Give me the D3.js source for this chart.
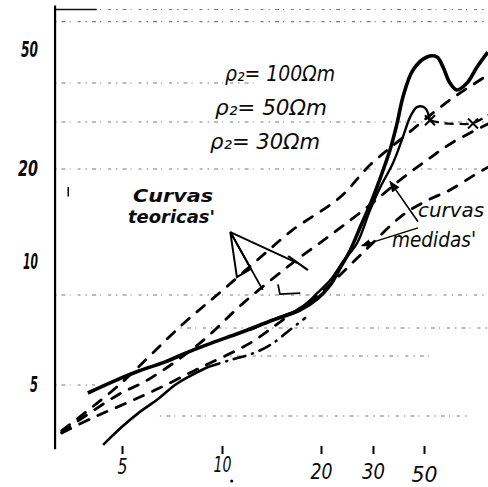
<!DOCTYPE html>
<html>
<head>
<meta charset="utf-8">
<script src="https://cdn.jsdelivr.net/npm/d3@7"></script>
<style>
  html, body { margin: 0; padding: 0; background: #fff; }
  svg { display: block; }
  text { font-family: "DejaVu Sans", sans-serif; font-style: italic; fill: #0a0a0a; }
</style>
</head>
<body>
<svg id="chart" width="488" height="487"></svg>
<script>
// Apparent resistivity (Ω·m) against electrode spacing, log–log field sheet.

// Axis ticks
const xTicks = [5, 10, 20, 30, 50];
const yTicks = [5, 10, 20, 50];

// Ruled lines of the sheet (resistivity value, from spacing, to spacing)
const gridRho  = [68, 62, 40, 30, 20, 8, 7, 6, 5, 4];
const gridFrom = [3.15, 3.15, 3.15, 3.15, 3.15, 3.15, 7.5, 10.6, 3.15, 6.5];
const gridTo   = [100, 100, 13, 100, 100, 100, 100, 53, 4.15, 79];

// Theoretical curves, ρ2 = 100, 50, 30 Ωm
const spacingT100 = [3.3, 4.9, 7.6, 10.1, 13.7, 16.4, 23.2, 29.3, 39.3, 64.9, 95];
const rhoT100     = [3.6, 5.0, 7.1, 8.3, 10.8, 12.7, 16.2, 20.7, 25.7, 35.3, 42.2];

const spacingT50 = [3.3, 4.8, 6.1, 8.6, 11.6, 16.4, 22.0, 29.3, 39.3, 51.5, 66.9, 95];
const rhoT50     = [3.56, 4.62, 5.22, 6.45, 7.74, 9.94, 12.4, 15.3, 18.4, 21.6, 25.2, 29.5];

const spacingT30 = [3.3, 4.07, 5.0, 6.29, 8.59, 12.2, 15.0, 19.9, 27.1, 40.5, 51.5, 64.9, 81.8, 95];
const rhoT30     = [3.54, 3.94, 4.33, 4.82, 5.57, 6.45, 7.17, 8.11, 10.5, 14.2, 15.8, 17.1, 19.0, 20.3];

// Measured curves
const spacingM1 = [3.95, 4.77, 5.59, 6.74, 7.9, 9.33, 11.3, 14.3, 17.3, 19.6, 21.5, 23.2, 25.1, 27.1, 29.3,
                   31.5, 33.8, 35.6, 38.2, 40.5, 44.8, 51.5, 57.0, 60.5, 64.9, 69.6, 77.0, 85.2, 95];
const rhoM1     = [4.72, 5.14, 5.45, 5.78, 6.13, 6.45, 6.81, 7.23, 7.53, 7.90, 8.56, 9.6, 10.9, 12.9, 15.3,
                   17.8, 20.7, 23.6, 29.7, 36.1, 43.7, 47.7, 47.7, 44.6, 40.0, 38.0, 40.0, 44.6, 49.3];

const spacingM2 = [12.2, 15.0, 16.7, 18.1, 19.5, 21.5, 23.7, 26.5, 29.3, 32.2, 36.7, 40.5, 43.5, 46.6, 50.5, 53.1];
const rhoM2     = [6.93, 7.32, 7.5, 7.74, 8.11, 8.85, 10.0, 11.5, 14.7, 17.4, 21.1, 26.4, 31.1, 33.5, 33.3, 30.4];

const spacingM2ext = [53.1, 60.5, 70.4, 81.8, 95];
const rhoM2ext     = [30.4, 29.7, 29.5, 29.7, 31.6];
const crossSpacing = [53.1, 81.8];
const crossRho     = [30.4, 29.6];

const spacingM3 = [4.39, 5.0, 5.66, 6.42, 7.22, 8.01, 9.07];
const rhoM3     = [3.25, 3.70, 4.12, 4.52, 5.0, 5.29, 5.60];

const spacingM3b = [9.07, 10.6, 12.3, 14.0, 16.1, 17.9];
const rhoM3b     = [5.60, 5.85, 6.07, 6.37, 6.93, 7.29];

// Scales: hand-ruled log paper, so both are piecewise log scales
const x = d3.scaleLog()
  .domain([3, 5, 10, 20, 30, 50, 100])
  .range([48, 122, 222, 321, 373, 424, 493]);
const y = d3.scaleLog()
  .domain([3, 4, 5, 6, 7, 8, 10, 20, 30, 40, 50, 80])
  .range([456, 416, 385, 356, 328, 295, 262, 169, 122, 83, 50, -12]);

const svg = d3.select("#chart");
const axisAt = 3.15;
const pts = (xs, ys) => xs.map((v, i) => [v, ys[i]]);
const line = d3.line()
  .x(d => x(d[0])).y(d => y(d[1]))
  .curve(d3.curveCatmullRom.alpha(0.5));

// ruled lines
const grid = svg.append("g");
gridRho.forEach((r, i) => {
  grid.append("line")
    .attr("x1", x(gridFrom[i])).attr("x2", x(gridTo[i]))
    .attr("y1", y(r)).attr("y2", y(r))
    .attr("stroke", "#333").attr("stroke-width", 1.1).attr("opacity", 0.65)
    .attr("stroke-dasharray", "1.5,5,4,4,1,7,3,5");
});
// solid lead-in of the top rule
grid.append("line")
  .attr("x1", x(axisAt)).attr("x2", x(4.2))
  .attr("y1", y(68)).attr("y2", y(68))
  .attr("stroke", "#111").attr("stroke-width", 1.4);

// vertical axis line
svg.append("line")
  .attr("x1", x(axisAt)).attr("x2", x(axisAt))
  .attr("y1", y(70)).attr("y2", y(3.15))
  .attr("stroke", "#000").attr("stroke-width", 2.2);
// small stroke beside the axis
svg.append("line")
  .attr("x1", x(3.45)).attr("x2", x(3.45))
  .attr("y1", y(17.5)).attr("y2", y(16.3))
  .attr("stroke", "#000").attr("stroke-width", 1.5);

const yLen = {5: 8, 10: 15, 20: 20, 50: 17};
svg.append("g")
  .attr("transform", `translate(${x(axisAt)},0)`)
  .call(d3.axisLeft(y).tickValues(yTicks).tickSize(0).tickPadding(17).tickFormat(d3.format("d")))
  .call(g => g.select(".domain").remove())
  .call(g => g.selectAll("text")
    .attr("fill", "#000")
    .attr("textLength", d => yLen[d])
    .attr("lengthAdjust", "spacingAndGlyphs")
    .style("font-size", "21px").style("font-weight", "bold")
    .style("font-style", "italic").style("font-family", "DejaVu Sans, sans-serif"));

const xLen = {5: 10, 10: 18, 20: 22, 30: 23, 50: 26};
const xDrop = {5: 0, 10: -2, 20: 5, 30: 5, 50: 8};
svg.append("g")
  .attr("transform", "translate(0,446)")
  .call(d3.axisBottom(x).tickValues(xTicks).tickSize(8).tickPadding(4).tickFormat(d3.format("d")))
  .call(g => g.select(".domain").remove())
  .call(g => g.selectAll("line").attr("stroke", "#000").attr("stroke-width", 2))
  .call(g => g.selectAll("text")
    .attr("fill", "#000")
    .attr("y", d => 12 + xDrop[d])
    .attr("textLength", d => xLen[d])
    .attr("lengthAdjust", "spacingAndGlyphs")
    .style("font-size", "22px").style("font-weight", "normal")
    .style("font-style", "italic").style("font-family", "DejaVu Sans, sans-serif"));

// theoretical curves (dashed)
[[spacingT100, rhoT100], [spacingT50, rhoT50], [spacingT30, rhoT30]].forEach(([xs, ys]) => {
  svg.append("path")
    .attr("d", line(pts(xs, ys)))
    .attr("fill", "none").attr("stroke", "#000")
    .attr("stroke-width", 2.8).attr("stroke-linecap", "round")
    .attr("stroke-dasharray", "10,10");
});

// measured curves
svg.append("path").attr("d", line(pts(spacingM3, rhoM3)))
  .attr("fill", "none").attr("stroke", "#000").attr("stroke-width", 2.6);
svg.append("path").attr("d", line(pts(spacingM3b, rhoM3b)))
  .attr("fill", "none").attr("stroke", "#000").attr("stroke-width", 2.6)
  .attr("stroke-linecap", "round").attr("stroke-dasharray", "12,7,1,7");
svg.append("path").attr("d", line(pts(spacingM2, rhoM2)))
  .attr("fill", "none").attr("stroke", "#000").attr("stroke-width", 2.4);
svg.append("path").attr("d", line(pts(spacingM2ext, rhoM2ext)))
  .attr("fill", "none").attr("stroke", "#000").attr("stroke-width", 2.2)
  .attr("stroke-dasharray", "9,6");
svg.append("path").attr("d", line(pts(spacingM1, rhoM1)))
  .attr("fill", "none").attr("stroke", "#000").attr("stroke-width", 3.6)
  .attr("stroke-linejoin", "round");

// crosses on the extension of the second measured curve
crossSpacing.forEach((s, i) => {
  const cx = x(s), cy = y(crossRho[i]);
  svg.append("path")
    .attr("d", `M${cx - 5},${cy - 5}L${cx + 5},${cy + 5}M${cx + 5},${cy - 5}L${cx - 5},${cy + 5}`)
    .attr("stroke", "#000").attr("stroke-width", 2);
});

// pointers from "curvas teoricas"
const pointer = svg.append("g").attr("stroke", "#000").attr("fill", "none").attr("stroke-width", 1.8);
const V = [x(10.6), y(12.5)];
pointer.append("path")
  .attr("d", `M${V}L${x(11.1)},${y(9.03)}L${x(12.25)},${y(9.54)}Z`).attr("stroke-width", 2);
pointer.append("line")
  .attr("x1", V[0]).attr("y1", V[1]).attr("x2", x(13.3)).attr("y2", y(8.28));
pointer.append("line")
  .attr("x1", V[0]).attr("y1", V[1]).attr("x2", x(16.9)).attr("y2", y(9.94));
pointer.append("line")
  .attr("x1", x(15.9)).attr("y1", y(10.45)).attr("x2", x(18.25)).attr("y2", y(9.47)).attr("stroke-width", 2.2);
pointer.append("path")
  .attr("d", `M${x(14.8)},${y(8.6)}L${x(15.0)},${y(8.05)}L${x(17.3)},${y(8.1)}`);

// pointers from "curvas medidas"
svg.append("defs").append("marker")
  .attr("id", "head").attr("viewBox", "0 0 10 10").attr("refX", 9).attr("refY", 5)
  .attr("markerWidth", 7).attr("markerHeight", 7).attr("orient", "auto")
  .append("path").attr("d", "M0,1L10,5L0,9Z").attr("fill", "#000");
svg.append("line")
  .attr("x1", x(47.1)).attr("y1", y(13.5)).attr("x2", x(35.6)).attr("y2", y(18.2))
  .attr("stroke", "#000").attr("stroke-width", 1.6).attr("marker-end", "url(#head)");
svg.append("line")
  .attr("x1", x(47.1)).attr("y1", y(12.9)).attr("x2", x(27.5)).attr("y2", y(11.3))
  .attr("stroke", "#000").attr("stroke-width", 1.4).attr("marker-end", "url(#head)");

// labels
function rhoLabel(px, py, value, len) {
  svg.append("text").attr("x", px).attr("y", py)
    .attr("textLength", len).attr("lengthAdjust", "spacingAndGlyphs")
    .style("font-size", "22px")
    .text("ρ₂" + value);
}
rhoLabel(225, 81, "= 100Ωm", 110);
rhoLabel(215, 115, "= 50Ωm", 112);
rhoLabel(210, 149, "= 30Ωm", 110);

svg.append("text").attr("x", 133).attr("y", 202).text("Curvas")
  .attr("textLength", 80).attr("lengthAdjust", "spacingAndGlyphs")
  .style("font-size", "18px").style("font-weight", "bold");
svg.append("text").attr("x", 128).attr("y", 223).text("teoricas'")
  .attr("textLength", 87).attr("lengthAdjust", "spacingAndGlyphs")
  .style("font-size", "17px").style("font-weight", "bold");

svg.append("text").attr("x", 418).attr("y", 217).text("curvas")
  .attr("textLength", 66).attr("lengthAdjust", "spacingAndGlyphs")
  .style("font-size", "19px");
svg.append("text").attr("x", 392).attr("y", 247).text("medidas'")
  .attr("textLength", 84).attr("lengthAdjust", "spacingAndGlyphs")
  .style("font-size", "21px");

// stray dot beneath the "10"
svg.append("circle").attr("cx", x(10.7)).attr("cy", 481).attr("r", 1.5).attr("fill", "#000");
</script>
</body>
</html>
